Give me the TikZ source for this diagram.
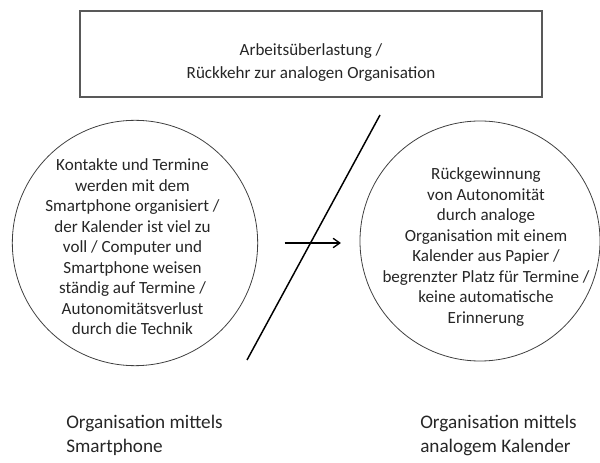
\documentclass[tikz,border=0pt]{standalone}
\usepackage{fontspec}
\setmainfont{Carlito}
\usetikzlibrary{arrows.meta,positioning}

\begin{document}
\begin{tikzpicture}[
  x=0.75pt, y=-0.75pt,
  font=\fontsize{12.8}{15.4}\selectfont,
  headbox/.style={draw=black!65, line width=1pt, minimum width=346.5pt, minimum height=64.5pt, inner sep=0pt},
  headtext/.style={align=center, inner sep=0pt, text=black!85, font=\fontsize{12.8}{17.2}\selectfont},
  bubble/.style={draw=black!75, line width=0.6pt, circle, minimum size=#1, inner sep=0pt},
  bubbletext/.style={align=center, inner sep=0pt, text=black!85},
  caption/.style={align=left, anchor=north west, inner sep=0pt, text=black!85, font=\fontsize{14.4}{17.8}\selectfont},
  flow/.style={-{Straight Barb[length=5pt, width=7pt]}, line width=1pt},
  cut/.style={line width=1.1pt}
]

\useasboundingbox (0,0) rectangle (600,463);

\node[headbox] (overload) at (311,54) {};
\node[headtext] at ([yshift=-6.5pt]overload.center) {Arbeitsüberlastung /\\Rückkehr zur analogen Organisation};

\node[bubble=184pt] (smart) at (135,243) {};
\node[bubble=180pt] (paper) at (480,241) {};

\node[bubbletext] at ([shift={(-2.5,4)}]smart.center)
  {Kontakte und Termine\\werden mit dem\\Smartphone organisiert /\\der Kalender ist viel zu\\voll / Computer und\\Smartphone weisen\\ständig auf Termine /\\Autonomitätsverlust\\durch die Technik};
\node[bubbletext] at ([shift={(6,6)}]paper.center)
  {Rückgewinnung\\von Autonomität\\durch analoge\\Organisation mit einem\\Kalender aus Papier /\\begrenzter Platz für Termine /\\keine automatische\\Erinnerung};

\draw[flow, shorten <=20pt, shorten >=14pt] (smart.east) -- (smart.east -| paper.west);

\coordinate (cuttop) at (380,115);
\coordinate (cutbot) at (247,360);
\draw[cut] (cuttop) -- (cutbot);

\node[caption] (smartcap) at (66,415) {Organisation mittels\\Smartphone};
\node[caption] (papercap) at (420,415) {Organisation mittels\\analogem Kalender};

\end{tikzpicture}
\end{document}
